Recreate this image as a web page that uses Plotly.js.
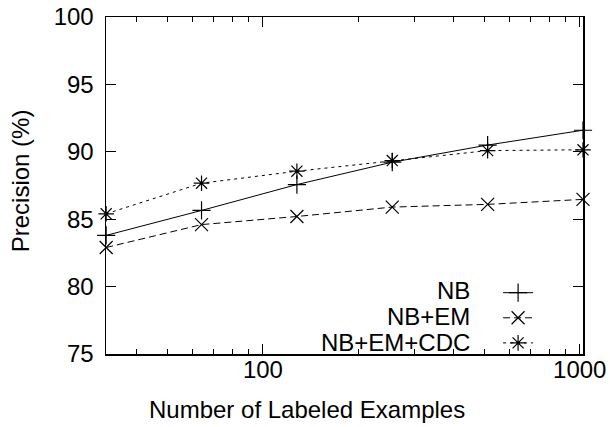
<!DOCTYPE html>
<html>
<head>
<meta charset="utf-8">
<script src="https://cdn.plot.ly/plotly-3.0.1.min.js"></script>
<style>html,body{margin:0;padding:0;background:#fff;}#chart{width:610px;height:427px;}</style>
</head>
<body>
<div id="chart"></div>
<script>
const labeledExamples = [32, 64, 128, 256, 512, 1024];
const seriesNames = ['NB', 'NB+EM', 'NB+EM+CDC'];
const nbPrecision = [83.8, 85.65, 87.57, 89.23, 90.5, 91.6];
const nbEmPrecision = [82.9, 84.6, 85.2, 85.9, 86.1, 86.47];
const nbEmCdcPrecision = [85.4, 87.67, 88.56, 89.35, 90.09, 90.15];
const xTickVals = [100, 1000];
const xTickText = ['100', '1000'];
const xMinorTicks = [40, 50, 60, 70, 80, 90, 200, 300, 400, 500, 600, 700, 800, 900];
const xTitle = 'Number of Labeled Examples';
const yTitle = 'Precision (%)';

const FONT = 'Liberation Sans, Arial, Helvetica, sans-serif';
const FS = 24;
const series = [nbPrecision, nbEmPrecision, nbEmCdcPrecision];
const symbols = ['cross-thin-open', 'x-thin-open', 'asterisk-open'];
const dashes = ['solid', '7px,4px', '3px,4px'];

const traces = series.map((ys, i) => ({
  x: labeledExamples,
  y: ys,
  type: 'scatter',
  mode: 'lines+markers',
  name: ' ',
  cliponaxis: false,
  line: {color: '#000', width: 1, dash: dashes[i]},
  marker: {symbol: symbols[i], size: 13, color: '#000', line: {color: '#000', width: 1.2}}
}));

const annotations = seriesNames.map((n, i) => ({
  text: n, xref: 'paper', yref: 'paper',
  x: 0.768, y: 0.187 - i * 0.0757, xanchor: 'right', yanchor: 'middle',
  showarrow: false, font: {family: FONT, size: FS, color: '#000'}
}));
annotations.push({
  text: xTitle, xref: 'paper', yref: 'paper', x: 0.422, y: -0.165,
  xanchor: 'center', yanchor: 'middle', showarrow: false,
  font: {family: FONT, size: FS, color: '#000'}
});
annotations.push({
  text: yTitle, xref: 'paper', yref: 'paper', x: -0.18, y: 0.513,
  xanchor: 'center', yanchor: 'middle', textangle: -90, showarrow: false,
  font: {family: FONT, size: FS, color: '#000'}
});

const layout = {
  width: 610, height: 427,
  margin: {l: 106, r: 27, t: 17, b: 73},
  paper_bgcolor: '#fff', plot_bgcolor: '#fff',
  font: {family: FONT, size: FS, color: '#000'},
  showlegend: true,
  legend: {x: 0.822, y: 0.234, xanchor: 'left', yanchor: 'top', bgcolor: 'rgba(0,0,0,0)',
           font: {family: FONT, size: 17}, tracegroupgap: 0, itemwidth: 30},
  xaxis: {
    type: 'log', range: [Math.log10(32) - 0.0005, Math.log10(1024)],
    tickmode: 'array', tickvals: xTickVals, ticktext: xTickText,
    ticks: 'inside', ticklen: 10, tickwidth: 1, tickcolor: '#000',
    minor: {tickmode: 'array', tickvals: xMinorTicks, ticks: 'inside', ticklen: 5, tickwidth: 1, tickcolor: '#000', showgrid: false},
    showline: true, linecolor: '#000', linewidth: 1.5, mirror: 'ticks',
    showgrid: false, zeroline: false, ticklabelstandoff: -6,
    tickfont: {family: FONT, size: FS}
  },
  yaxis: {
    range: [75, 100], dtick: 5, tick0: 75,
    ticks: 'inside', ticklen: 10, tickwidth: 1, tickcolor: '#000',
    showline: true, linecolor: '#000', linewidth: 1.5, mirror: 'ticks',
    showgrid: false, zeroline: false, ticklabelstandoff: 6,
    tickfont: {family: FONT, size: FS}
  },
  annotations: annotations
};

Plotly.newPlot('chart', traces, layout, {displayModeBar: false, staticPlot: true});
</script>
</body>
</html>
